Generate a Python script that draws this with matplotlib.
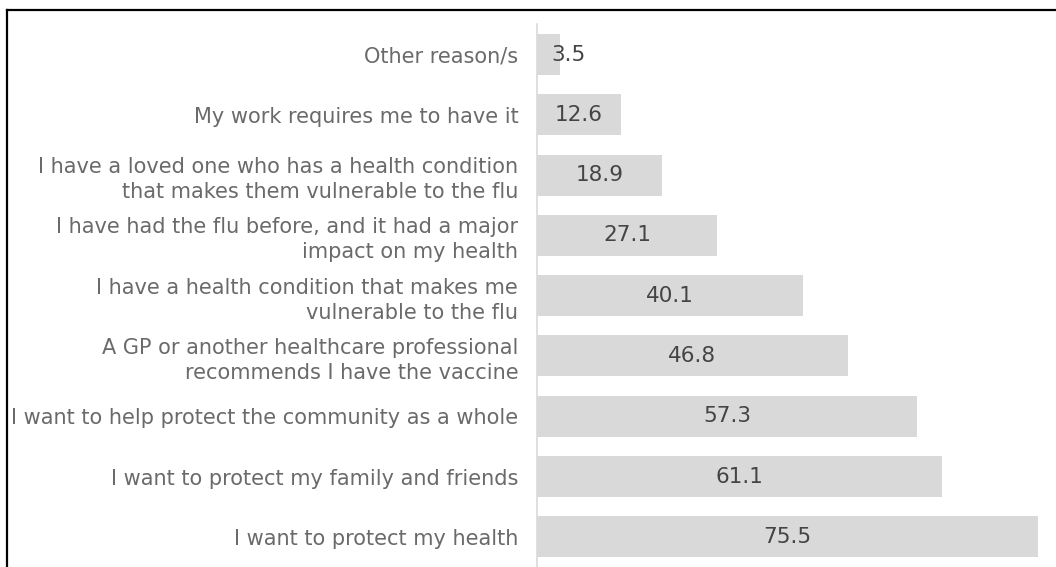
import matplotlib.pyplot as plt
from matplotlib.lines import Line2D

reasons = [
    "Other reason/s",
    "My work requires me to have it",
    "I have a loved one who has a health condition\nthat makes them vulnerable to the flu",
    "I have had the flu before, and it had a major\nimpact on my health",
    "I have a health condition that makes me\nvulnerable to the flu",
    "A GP or another healthcare professional\nrecommends I have the vaccine",
    "I want to help protect the community as a whole",
    "I want to protect my family and friends",
    "I want to protect my health",
]
percent = [3.5, 12.6, 18.9, 27.1, 40.1, 46.8, 57.3, 61.1, 75.5]

plt.rcParams["font.family"] = ["DejaVu Sans"]

fig = plt.figure(figsize=(10.56, 5.67), dpi=100)
xmax = 78
ax = fig.add_axes([537 / 1056, 0, xmax * 6.636 / 1056, 1 - 24.4 / 567])

pos = list(range(len(reasons)))
ax.barh(pos, percent, height=0.68, color="#d9d9d9")
ax.set_ylim(len(reasons) - 0.5, -0.5)
ax.set_xlim(0, xmax)

ax.set_yticks(pos)
ax.set_yticklabels(reasons, fontsize=15, color="#6a6a6a", linespacing=1.3)
ax.tick_params(axis="y", length=0, pad=13.5)
ax.set_xticks([])

for s in ["top", "right", "bottom"]:
    ax.spines[s].set_visible(False)
ax.spines["left"].set_color("#d9d9d9")
ax.spines["left"].set_linewidth(1.2)

# value labels centred in the bars, nudged right when the bar is too short
for y, v in zip(pos, percent):
    ax.text(max(v / 2, 4.8), y, f"{v:.1f}", ha="center", va="center",
            fontsize=15.5, color="#444444")

# outer frame lines
fig.add_artist(Line2D([7 / 1056, 1], [1 - 10 / 567, 1 - 10 / 567],
                      color="black", lw=1.6, transform=fig.transFigure))
fig.add_artist(Line2D([7 / 1056, 7 / 1056], [0, 1 - 10 / 567],
                      color="black", lw=1.6, transform=fig.transFigure))

fig.savefig("out.png", dpi=100)
